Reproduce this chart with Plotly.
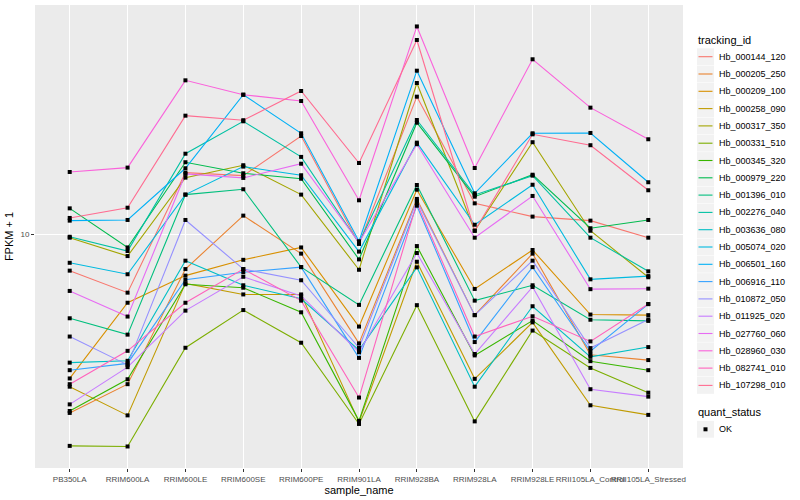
import plotly.graph_objects as go

samples = ["PB350LA", "RRIM600LA", "RRIM600LE", "RRIM600SE", "RRIM600PE", "RRIM901LA",
           "RRIM928BA", "RRIM928LA", "RRIM928LE", "RRII105LA_Control", "RRII105LA_Stressed"]

tracking_ids = ["Hb_000144_120", "Hb_000205_250", "Hb_000209_100", "Hb_000258_090", "Hb_000317_350",
                "Hb_000331_510", "Hb_000345_320", "Hb_000979_220", "Hb_001396_010", "Hb_002276_040",
                "Hb_003636_080", "Hb_005074_020", "Hb_006501_160", "Hb_006916_110", "Hb_010872_050",
                "Hb_011925_020", "Hb_027760_060", "Hb_028960_030", "Hb_082741_010", "Hb_107298_010"]

colors = ["#F8766D", "#EA8331", "#D89000", "#C09B00", "#A3A500", "#7CAE00", "#39B600", "#00BB4E",
          "#00BF7D", "#00C1A3", "#00BFC4", "#00BAE0", "#00B0F6", "#35A2FF", "#9590FF", "#C77CFF",
          "#E76BF3", "#FA62DB", "#FF62BC", "#FF6C91"]

# FPKM + 1 per sample
Hb_000144_120 = [8.18, 7.25, 14.00, 13.77, 17.11, 9.47, 21.23, 11.83, 11.00, 10.76, 9.80]
Hb_000205_250 = [3.75, 4.39, 8.25, 11.06, 8.98, 5.49, 12.12, 6.41, 8.98, 5.16, 5.01]
Hb_000209_100 = [4.53, 6.86, 7.96, 8.68, 9.29, 6.02, 12.75, 7.40, 9.16, 6.43, 6.41]
Hb_000258_090 = [4.33, 3.70, 7.63, 7.18, 7.18, 3.57, 8.59, 4.52, 6.16, 3.91, 3.71]
Hb_000317_350 = [9.80, 8.86, 13.62, 14.58, 12.41, 8.22, 22.88, 10.18, 16.54, 10.18, 7.89]
Hb_000331_510 = [3.13, 3.12, 5.36, 6.59, 5.51, 3.53, 6.77, 3.58, 5.89, 4.80, 4.19]
Hb_000345_320 = [3.79, 4.51, 7.59, 7.45, 6.51, 3.59, 9.36, 5.14, 6.22, 4.98, 4.74]
Hb_000979_220 = [11.51, 9.29, 14.82, 13.95, 13.54, 8.70, 18.41, 12.27, 13.84, 10.32, 10.80]
Hb_001396_010 = [6.30, 5.76, 12.41, 12.78, 8.34, 6.78, 13.08, 6.94, 7.55, 6.25, 6.21]
Hb_002276_040 = [9.85, 9.11, 15.53, 18.55, 15.26, 9.52, 18.68, 12.39, 13.77, 9.80, 8.15]
Hb_003636_080 = [4.94, 4.99, 8.64, 7.55, 7.01, 5.29, 8.33, 4.33, 6.73, 5.10, 5.38]
Hb_005074_020 = [8.54, 8.02, 12.41, 14.47, 13.80, 9.08, 16.50, 10.52, 13.10, 7.80, 7.94]
Hb_006501_160 = [10.76, 10.80, 14.34, 21.46, 17.37, 9.61, 24.48, 12.50, 17.37, 17.40, 13.28]
Hb_006916_110 = [4.74, 4.92, 7.78, 8.11, 8.34, 5.07, 11.68, 5.53, 8.34, 5.26, 6.81]
Hb_010872_050 = [5.70, 4.88, 10.80, 8.25, 7.76, 5.36, 12.00, 6.41, 8.64, 5.35, 6.26]
Hb_011925_020 = [3.93, 4.82, 6.57, 7.91, 7.12, 5.23, 9.01, 5.18, 7.48, 4.27, 4.10]
Hb_027760_060 = [7.32, 6.36, 13.90, 13.60, 14.70, 9.54, 16.36, 9.80, 12.32, 7.39, 7.41]
Hb_028960_030 = [14.05, 14.39, 23.22, 21.46, 20.73, 12.03, 31.20, 14.36, 26.06, 19.99, 16.81]
Hb_082741_010 = [4.39, 5.27, 6.86, 8.25, 6.94, 4.08, 11.85, 5.70, 6.37, 5.55, 6.81]
Hb_107298_010 = [10.92, 11.55, 19.13, 18.66, 21.90, 14.76, 28.97, 10.18, 17.27, 16.27, 12.71]

series = [Hb_000144_120, Hb_000205_250, Hb_000209_100, Hb_000258_090, Hb_000317_350,
          Hb_000331_510, Hb_000345_320, Hb_000979_220, Hb_001396_010, Hb_002276_040,
          Hb_003636_080, Hb_005074_020, Hb_006501_160, Hb_006916_110, Hb_010872_050,
          Hb_011925_020, Hb_027760_060, Hb_028960_030, Hb_082741_010, Hb_107298_010]

quant_status = "OK"

FONT = "Liberation Sans"
W, H = 800, 500
ML, MR, MT, MB = 35, 117, 5, 32
PW, PH = W - ML - MR, H - MT - MB


def px(x):
    return (x - ML) / PW


def py(y):
    return (H - MB - y) / PH


fig = go.Figure()

for name, vals, col in zip(tracking_ids, series, colors):
    fig.add_trace(go.Scatter(x=samples, y=vals, mode="lines", name=name,
                             line=dict(color=col, width=1.1), showlegend=False))

all_x, all_y = [], []
for vals in series:
    all_x += samples
    all_y += vals
fig.add_trace(go.Scatter(x=all_x, y=all_y, mode="markers", name=quant_status,
                         marker=dict(symbol="square", size=4, color="black"),
                         showlegend=False))

# legend drawn by hand (ggplot-style key boxes)
shapes, annotations = [], []
annotations.append(dict(xref="paper", yref="paper", x=px(696), y=py(40.5), text="tracking_id",
                        showarrow=False, xanchor="left", yanchor="middle",
                        font=dict(size=11, color="black", family=FONT)))
step = 17.3
for i, (name, col) in enumerate(zip(tracking_ids, colors)):
    cy = 56.7 + i * step
    shapes.append(dict(type="rect", xref="paper", yref="paper",
                       x0=px(697), x1=px(714), y0=py(cy - 8.4), y1=py(cy + 8.4),
                       fillcolor="#F2F2F2", line=dict(width=0), layer="above"))
    shapes.append(dict(type="line", xref="paper", yref="paper",
                       x0=px(698.5), x1=px(712.5), y0=py(cy), y1=py(cy),
                       line=dict(color=col, width=1.1), layer="above"))
    annotations.append(dict(xref="paper", yref="paper", x=px(716.5), y=py(cy), text=name,
                            showarrow=False, xanchor="left", yanchor="middle",
                            font=dict(size=9, color="black", family=FONT)))

annotations.append(dict(xref="paper", yref="paper", x=px(696), y=py(411.5), text="quant_status",
                        showarrow=False, xanchor="left", yanchor="middle",
                        font=dict(size=11, color="black", family=FONT)))
cy = 429.3
shapes.append(dict(type="rect", xref="paper", yref="paper",
                   x0=px(697), x1=px(714), y0=py(cy - 8.4), y1=py(cy + 8.4),
                   fillcolor="#F2F2F2", line=dict(width=0), layer="above"))
shapes.append(dict(type="rect", xref="paper", yref="paper",
                   x0=px(703.5), x1=px(707.5), y0=py(cy - 2), y1=py(cy + 2),
                   fillcolor="black", line=dict(width=0), layer="above"))
annotations.append(dict(xref="paper", yref="paper", x=px(716.5), y=py(cy), text=quant_status,
                        showarrow=False, xanchor="left", yanchor="middle",
                        font=dict(size=9, color="black", family=FONT)))

fig.update_layout(
    width=W, height=H,
    margin=dict(l=ML, r=MR, t=MT, b=MB, autoexpand=False),
    paper_bgcolor="white", plot_bgcolor="#EBEBEB",
    font=dict(family=FONT, size=9, color="black"),
    showlegend=False,
    shapes=shapes, annotations=annotations,
    xaxis=dict(type="category", categoryorder="array", categoryarray=samples,
               range=[-0.6, 10.6], showgrid=True, gridcolor="white", gridwidth=1.1,
               zeroline=False, showline=False, ticks="outside", ticklen=3, tickcolor="#333333",
               tickangle=0, tickfont=dict(size=8, color="#4D4D4D", family=FONT),
               title=dict(text="sample_name", font=dict(size=11, color="black"), standoff=2),
               automargin=False),
    yaxis=dict(type="log", range=[0.4429, 1.5452], tickvals=[10], ticktext=["10"],
               showgrid=True, gridcolor="white", gridwidth=1.1, zeroline=False, showline=False,
               ticks="outside", ticklen=3, tickcolor="#333333",
               tickfont=dict(size=8, color="#4D4D4D", family=FONT),
               title=dict(text="FPKM + 1", font=dict(size=11, color="black"), standoff=4),
               automargin=False),
)

fig.write_html("out.html", config={"displayModeBar": False},
               post_script="document.body.style.margin='0';document.body.style.overflow='hidden';")
